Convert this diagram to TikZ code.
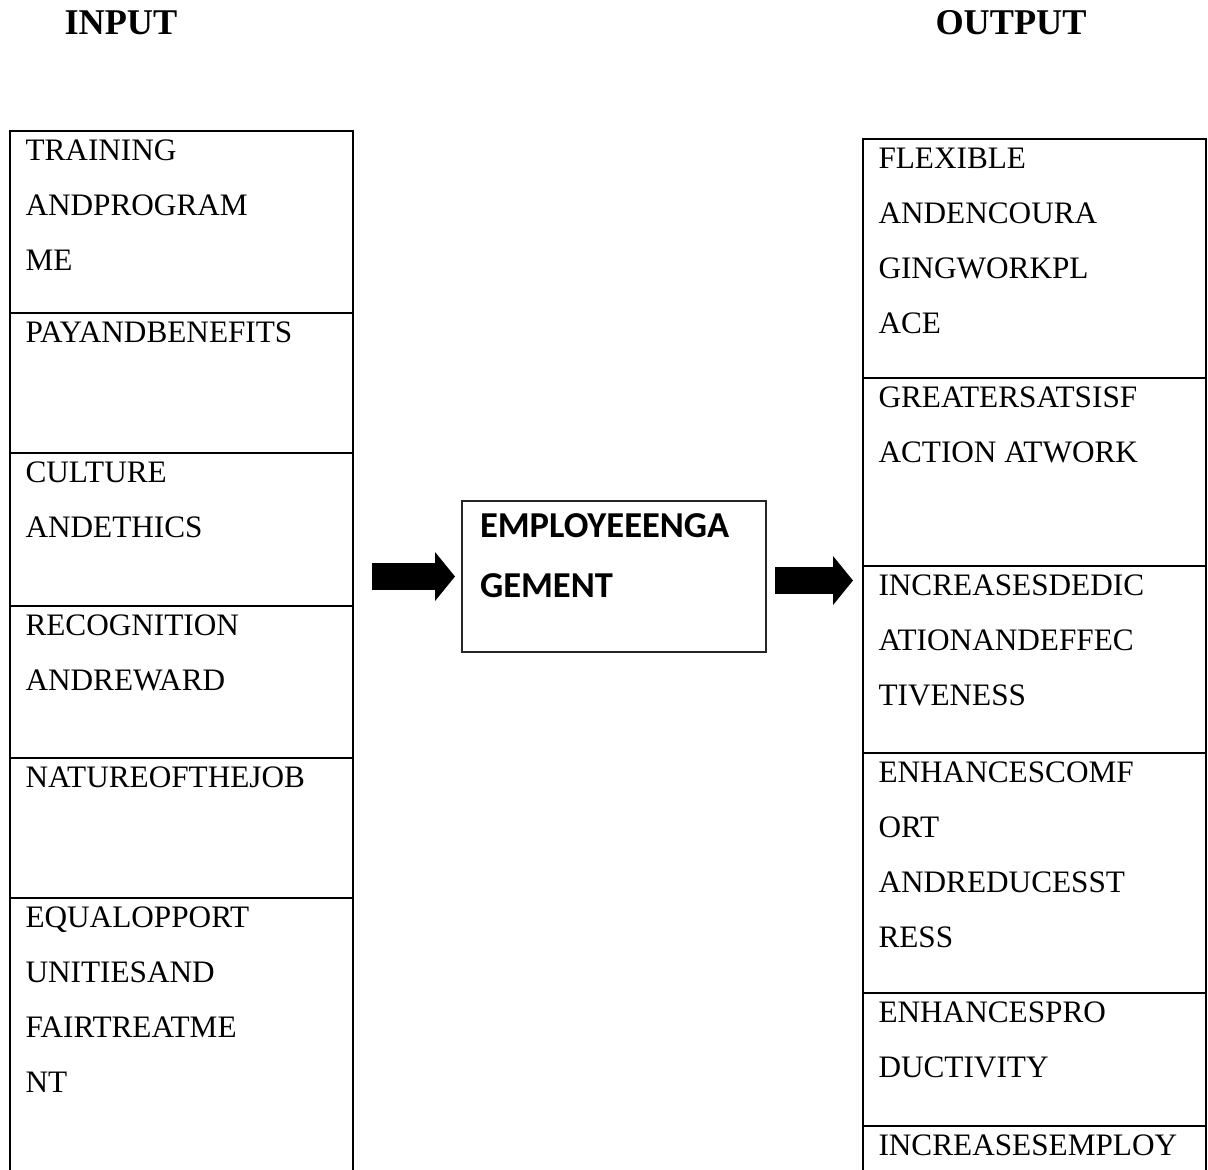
\documentclass[tikz,border=0pt]{standalone}
\usepackage{fontspec}
\setmainfont{Liberation Serif}
\newfontfamily\calibri{Carlito}
\usepackage{tikz}
\usetikzlibrary{arrows.meta,positioning}
\newcommand{\celltext}[2]{\parbox[c][#1][t]{124.8pt}{\vspace*{3.5pt}#2}}

\begin{document}
\begin{tikzpicture}[
    x=0.4pt, y=-0.4pt,
    cell/.style={draw, line width=0.8pt, inner xsep=6.2pt, inner ysep=0pt, outer sep=0pt,
                 anchor=north west, font=\fontsize{12.5pt}{22pt}\selectfont},
    core/.style={draw=black!85, line width=0.6pt, inner xsep=7.2pt, inner ysep=0pt, outer sep=0pt,
                 anchor=north west, font=\calibri\bfseries\fontsize{14.6pt}{24pt}\selectfont},
    title/.style={anchor=west, inner sep=0pt, font=\bfseries\fontsize{14.5pt}{17pt}\selectfont},
    arr/.style={-{Triangle[length=8pt,width=19.2pt]}, line width=10.8pt}
  ]
  \useasboundingbox (0,0) rectangle (1208,1169);
  \clip (0,0) rectangle (1208,1169);
  \node[title] (tin) at (64,23) {INPUT};
  \node[title] (tout) at (935,23) {OUTPUT};
  % input factors
  \node[cell] (in1) at (10,131) {\celltext{72.8pt}{TRAINING\\ANDPROGRAM\\ME}};
  \node[cell, below=0pt of in1] (in2) {\celltext{56pt}{PAYANDBENEFITS}};
  \node[cell, below=0pt of in2] (in3) {\celltext{61.2pt}{CULTURE\\ANDETHICS}};
  \node[cell, below=0pt of in3] (in4) {\celltext{60.8pt}{RECOGNITION\\ANDREWARD}};
  \node[cell, below=0pt of in4] (in5) {\celltext{56pt}{NATUREOFTHEJOB}};
  \node[cell, below=0pt of in5] (in6) {\celltext{120pt}{EQUALOPPORT\\UNITIESAND\\FAIRTREATME\\NT}};
  % engagement
  \node[core] (eng) at (462,501) {\parbox[c][60.4pt][t]{107.2pt}{\vspace*{4.9pt}EMPLOYEEENGA\\GEMENT}};
  % outcomes
  \node[cell] (out1) at (863,139) {\celltext{95.6pt}{FLEXIBLE\\ANDENCOURA\\GINGWORKPL\\ACE}};
  \node[cell, below=0pt of out1] (out2) {\celltext{75.2pt}{GREATERSATSISF\\ACTION ATWORK}};
  \node[cell, below=0pt of out2] (out3) {\celltext{74.8pt}{INCREASESDEDIC\\ATIONANDEFFEC\\TIVENESS}};
  \node[cell, below=0pt of out3] (out4) {\celltext{96pt}{ENHANCESCOMF\\ORT\\ANDREDUCESST\\RESS}};
  \node[cell, below=0pt of out4] (out5) {\celltext{53.2pt}{ENHANCESPRO\\DUCTIVITY}};
  \node[cell, below=0pt of out5] (out6) {\celltext{60pt}{INCREASESEMPLOY}};
  \coordinate (rmid) at ([yshift=-1.6pt]eng.east);
  \draw[arr, shorten <=7.6pt, shorten >=2.8pt] (in3.east |- eng.west) -- (eng.west);
  \draw[arr, shorten <=3.6pt, shorten >=4pt] (rmid) -- (out3.west |- rmid);
\end{tikzpicture}
\end{document}
